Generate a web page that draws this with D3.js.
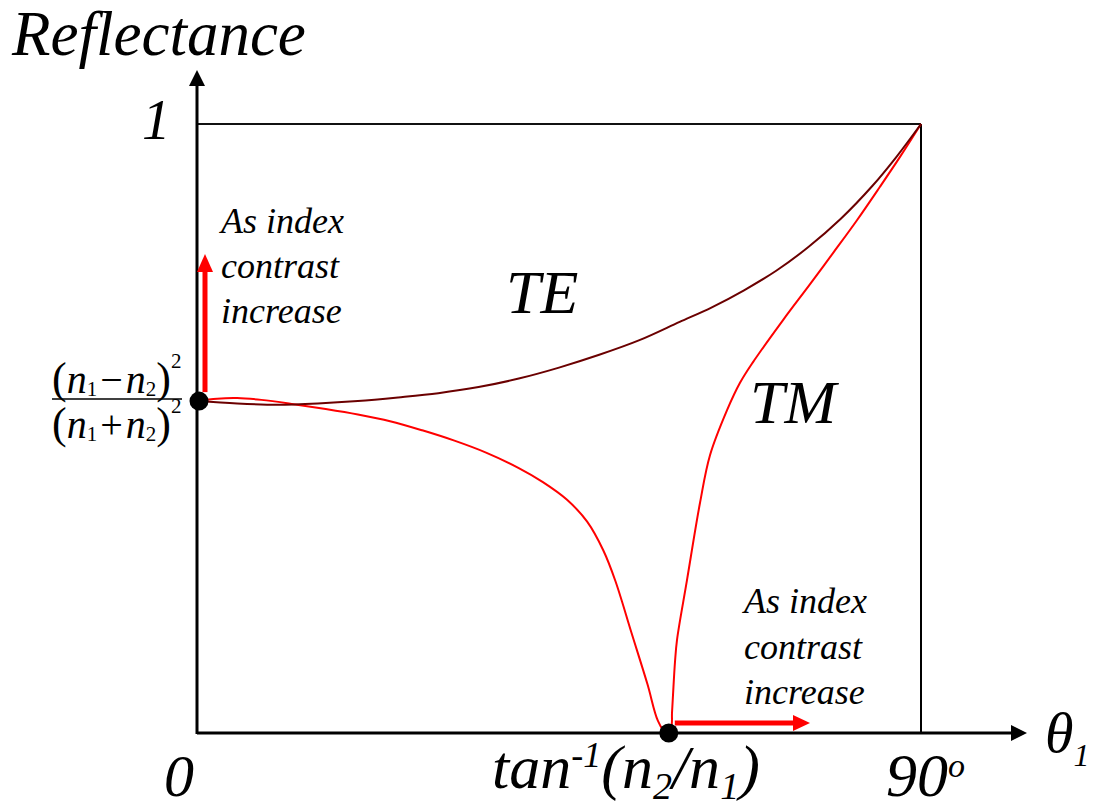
<!DOCTYPE html>
<html>
<head>
<meta charset="utf-8">
<script src="https://cdn.jsdelivr.net/npm/d3@7"></script>
</head>
<body style="margin:0">
<script>
// reflectance vs incidence angle (degrees)
var teAngle   = [0, 5, 10, 15, 20, 25, 30, 35, 40, 45, 50, 55, 60, 64, 68, 72, 76, 80, 84, 87, 90];
var teReflect = [0.545, 0.541, 0.539, 0.541, 0.545, 0.551, 0.558, 0.568, 0.582, 0.600, 0.621, 0.645, 0.675, 0.699, 0.727, 0.759, 0.798, 0.844, 0.899, 0.947, 1];

var tmAngle   = [0, 2.5, 5, 8, 12, 16, 20, 24, 28, 32, 36, 40, 43, 46, 48.5, 50.5, 52, 54, 56, 57.3, 58.3,
                 58.92, 59.05, 59.17, 59.42, 59.67, 60.91, 62.53, 63.77, 65.89, 67.5, 69.12, 72.85, 76.21, 79.06, 82.04, 84.9, 87.39, 90];
var tmReflect = [0.545, 0.549, 0.550, 0.547, 0.540, 0.532, 0.523, 0.512, 0.497, 0.480, 0.460, 0.435, 0.412, 0.383, 0.347, 0.300, 0.250, 0.165, 0.080, 0.020, 0,
                 0.008, 0.034, 0.062, 0.117, 0.153, 0.251, 0.378, 0.456, 0.530, 0.575, 0.609, 0.678, 0.737, 0.788, 0.842, 0.897, 0.946, 1];

var normalR = 0.545;     // (n1-n2)^2/(n1+n2)^2
var brewster = 58.4;     // tan^-1(n2/n1)
var noteLines = ["As index", "contrast", "increase"];

var w = 1093;
var h = 805;

var svg = d3.select("body")
  .append("svg")
  .attr("width", w)
  .attr("height", h);

var x = d3.scaleLinear().domain([0, 90]).range([197, 921]);
var y = d3.scaleLinear().domain([0, 1]).range([733, 124]);

// box (R = 1 and 90 deg lines)
svg.append("line")
  .attr("x1", x(0)).attr("x2", x(90))
  .attr("y1", y(1)).attr("y2", y(1))
  .attr("stroke", "#111").attr("stroke-width", 2);
svg.append("line")
  .attr("x1", x(90)).attr("x2", x(90))
  .attr("y1", y(1)).attr("y2", y(0))
  .attr("stroke", "#000").attr("stroke-width", 2);

// axes with arrow heads
var axisTop = 70, axisRight = 1027;
svg.append("line")
  .attr("x1", x(0)).attr("x2", x(0))
  .attr("y1", y(0) + 1).attr("y2", axisTop + 12)
  .attr("stroke", "#000").attr("stroke-width", 3);
svg.append("path")
  .attr("d", "M" + x(0) + "," + axisTop + "L" + (x(0) - 8) + "," + (axisTop + 16) + "L" + (x(0) + 8) + "," + (axisTop + 16) + "Z")
  .attr("fill", "#000");
svg.append("line")
  .attr("x1", x(0)).attr("x2", axisRight - 12)
  .attr("y1", y(0)).attr("y2", y(0))
  .attr("stroke", "#000").attr("stroke-width", 3);
svg.append("path")
  .attr("d", "M" + axisRight + "," + y(0) + "L" + (axisRight - 16) + "," + (y(0) - 8) + "L" + (axisRight - 16) + "," + (y(0) + 8) + "Z")
  .attr("fill", "#000");

// curves
var line = d3.line()
  .x(function(d) { return x(d[0]); })
  .y(function(d) { return y(d[1]); })
  .curve(d3.curveCatmullRom.alpha(0.5));

svg.append("path")
  .datum(d3.zip(tmAngle, tmReflect))
  .attr("d", line)
  .attr("fill", "none")
  .attr("stroke", "#ff0000")
  .attr("stroke-width", 2);

svg.append("path")
  .datum(d3.zip(teAngle, teReflect))
  .attr("d", line)
  .attr("fill", "none")
  .attr("stroke", "#6b0000")
  .attr("stroke-width", 2);

// red "index contrast" arrows
svg.append("line")
  .attr("x1", x(0) + 8).attr("x2", x(0) + 8)
  .attr("y1", y(normalR) - 9).attr("y2", 268)
  .attr("stroke", "#ff0000").attr("stroke-width", 5);
svg.append("path")
  .attr("d", "M" + (x(0) + 8) + ",254L" + (x(0) + 0) + ",272L" + (x(0) + 16) + ",272Z")
  .attr("fill", "#ff0000");

svg.append("line")
  .attr("x1", x(brewster) + 8).attr("x2", 796)
  .attr("y1", y(0) - 10).attr("y2", y(0) - 10)
  .attr("stroke", "#ff0000").attr("stroke-width", 5);
svg.append("path")
  .attr("d", "M810," + (y(0) - 10) + "L793," + (y(0) - 18) + "L793," + (y(0) - 2) + "Z")
  .attr("fill", "#ff0000");

// dots
svg.selectAll("circle")
  .data([[0, normalR], [brewster, 0]])
  .enter()
  .append("circle")
  .attr("cx", function(d) { return x(d[0]) + 2; })
  .attr("cy", function(d) { return y(d[1]); })
  .attr("r", 9.5)
  .attr("fill", "#000");

// labels (Times-like serif)
function txt(px, py, size, italic) {
  var t = svg.append("text")
    .attr("x", px).attr("y", py)
    .attr("font-size", size)
    .style("font-family", "'Liberation Serif'");
  if (italic) t.style("font-style", "italic");
  return t;
}

txt(12, 55, 63, true).text("Reflectance");
txt(142, 139, 57, true).text("1");
txt(164, 796, 60, true).text("0");
txt(506, 313, 62, true).text("TE");
txt(750, 423, 62, true).text("TM");

noteLines.forEach(function(s, i) {
  txt(221, 233 + i * 45, 36, true).text(s);
  txt(744, 613 + i * 45.5, 36, true).text(s);
});

// x tick: tan^-1(n2/n1)
var tan = txt(492, 788, 62, true);
tan.append("tspan").text("tan");
tan.append("tspan").attr("font-size", 36).attr("dy", -21).text("-1");
tan.append("tspan").attr("dy", 21).text("(n");
tan.append("tspan").attr("font-size", 38).attr("dy", 11).text("2");
tan.append("tspan").attr("dy", -11).text("/n");
tan.append("tspan").attr("font-size", 38).attr("dy", 11).text("1");
tan.append("tspan").attr("dy", -11).text(")");

// x tick: 90o
var ninety = txt(886, 796, 62, true);
ninety.append("tspan").text("90");
ninety.append("tspan").attr("font-size", 34).attr("dy", -19).text("o");

// axis title theta_1
var theta = txt(1045, 752, 58, true);
theta.append("tspan").text("θ");
theta.append("tspan").attr("font-size", 32).attr("dy", 14).text("1");

// y tick: (n1 - n2)^2 / (n1 + n2)^2
function fracRow(py, op) {
  var t = txt(52, py, 40, false);
  t.append("tspan").attr("font-size", 44).text("(");
  t.append("tspan").style("font-style", "italic").text("n");
  t.append("tspan").attr("font-size", 21).attr("dy", 3).text("1");
  t.append("tspan").attr("dx", 3).attr("dy", -3).text(op);
  t.append("tspan").attr("dx", 3).style("font-style", "italic").text("n");
  t.append("tspan").attr("font-size", 21).attr("dy", 3).text("2");
  t.append("tspan").attr("font-size", 44).attr("dy", -3).text(")");
  t.append("tspan").attr("font-size", 21).attr("dy", -25).text("2");
}
fracRow(393, "\u2212");
svg.append("line")
  .attr("x1", 52).attr("x2", 182)
  .attr("y1", 399).attr("y2", 399)
  .attr("stroke", "#000").attr("stroke-width", 1.5);
fracRow(438, "+");
</script>
</body>
</html>
